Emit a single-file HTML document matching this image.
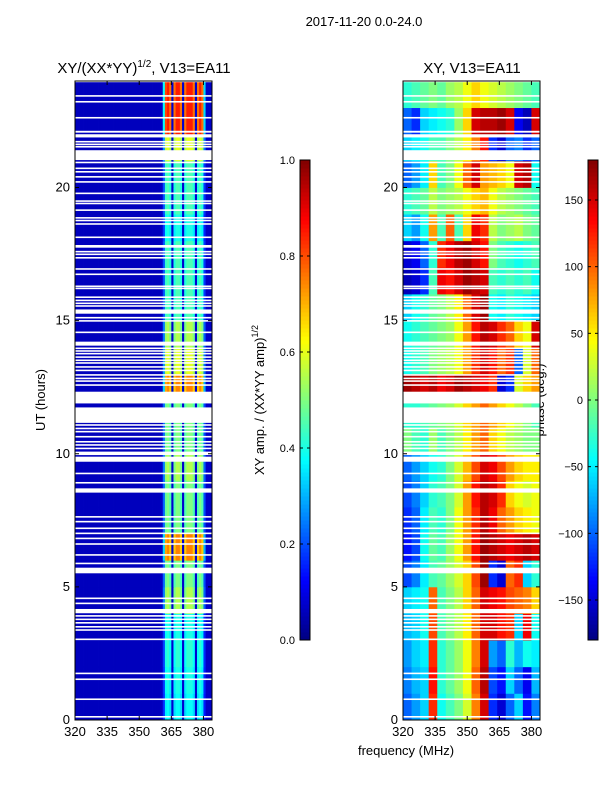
<!DOCTYPE html>
<html><head><meta charset="utf-8"><style>
body{margin:0;background:#fff;}
svg text{font-family:"Liberation Sans",sans-serif;fill:#000;}
</style></head><body>
<svg id="fig" width="600" height="800" xmlns="http://www.w3.org/2000/svg">
<rect width="600" height="800" fill="#fff"/>
<text x="364" y="26" font-size="13" text-anchor="middle">2017-11-20 0.0-24.0</text>
<text x="144" y="73" font-size="15" text-anchor="middle">XY/(XX*YY)<tspan dy="-6" font-size="10">1/2</tspan><tspan dy="6">, V13=EA11</tspan></text>
<text x="472" y="73" font-size="15" text-anchor="middle">XY, V13=EA11</text>
<text transform="translate(45,400) rotate(-90)" font-size="13" text-anchor="middle">UT (hours)</text>
<text x="406" y="755" font-size="13" text-anchor="middle">frequency (MHz)</text>
<text transform="translate(264,400) rotate(-90)" font-size="13" text-anchor="middle">XY amp. / (XX*YY amp)<tspan dy="-6" font-size="9">1/2</tspan></text>
<text transform="translate(544,400) rotate(-90)" font-size="13" text-anchor="middle">phase (deg.)</text>
<g id="g"></g>
</svg>
<script>
const flagged = [[23.97,24],[23.41,23.47],[23.19,23.25],[22.59,22.65],[22.06,22.13],[21.88,22.0],[21.69,21.75],[21.59,21.65],[21.5,21.56],[21.03,21.4],[20.91,20.97],[20.69,20.75],[20.56,20.62],[20.37,20.43],[20.18,20.24],[19.75,19.81],[19.46,19.52],[19.37,19.43],[19.12,19.18],[18.83,18.89],[18.73,18.79],[18.6,18.66],[18.1,18.16],[17.74,17.84],[17.56,17.62],[17.46,17.52],[17.33,17.39],[16.91,16.97],[16.71,16.77],[16.26,16.32],[16.18,16.24],[15.85,15.91],[15.73,15.79],[15.62,15.68],[15.52,15.58],[15.26,15.42],[15.08,15.14],[14.96,15.02],[14.53,14.59],[14.06,14.21],[13.93,13.99],[13.83,13.89],[13.73,13.79],[13.6,13.66],[13.48,13.54],[13.38,13.44],[13.23,13.29],[13.1,13.16],[12.93,12.99],[12.8,12.86],[12.7,12.76],[12.55,12.61],[11.89,12.33],[11.16,11.74],[11.05,11.11],[10.92,10.98],[10.8,10.86],[10.61,10.67],[10.42,10.48],[10.3,10.36],[10.17,10.23],[9.95,10.08],[9.7,9.89],[9.23,9.29],[8.88,8.94],[8.54,8.7],[7.6,7.66],[7.42,7.48],[7.17,7.23],[6.98,7.04],[6.79,6.85],[6.58,6.64],[6.17,6.23],[5.85,5.91],[5.51,5.72],[4.54,4.6],[4.35,4.41],[4.01,4.17],[3.88,3.94],[3.75,3.81],[3.62,3.68],[3.47,3.53],[3.35,3.41],[3.0,3.06],[1.72,1.78],[1.5,1.56],[0.75,0.81],[0.09,0.15]];
const ampCols = [0.06,0.06,0.06,0.06,0.06,0.06,0.06,0.06,0.06,0.06,0.06,0.06,0.06,0.06,0.06,0.06,0.06,0.06,0.06,0.06,0.06,0.06,0.06,0.06,0.06,0.06,0.06,0.06,0.06,0.06,0.06,0.06,0.06,0.06,0.06,0.06,0.06,0.06,0.06,0.06,0.07,0.45,0.95,1.0,0.9,0.08,0.9,1.0,1.0,0.9,0.08,0.9,1.0,1.0,1.0,0.9,0.08,0.9,1.0,0.9,0.4,0.07,0.07,0.07];
const ampHours = [0.38,0.4,0.42,0.4,0.55,0.5,0.75,0.5,0.5,0.55,0.5,0.5,0.75,0.6,0.55,0.45,0.45,0.45,0.4,0.45,0.45,0.6,0.85,0.85];
const phaseFreqs = [320,324,328,332,336,340,344,348,352,356,360,364,368,372,376,380];
const phaseRows = [
[-100,-80,-60,120,-40,-20,0,30,90,150,-120,-150,-100,-60,-130,-90],
[-90,-70,-60,130,-30,-10,10,40,100,160,-110,-130,-60,-100,-140,-70],
[-80,-60,-50,120,-30,-10,10,40,90,150,-80,-100,-30,-70,-40,-50],
[-70,-60,-40,110,-20,0,20,50,100,150,150,130,120,-60,140,-40],
[-60,-50,-40,100,-20,0,20,60,100,150,140,130,110,100,90,60],
[-110,-90,-50,-20,-10,10,30,60,110,170,-120,-150,100,120,-60,-30],
[-130,-110,-40,-10,-20,10,40,80,130,170,160,150,140,150,160,150],
[-120,-100,-50,-20,-30,0,40,80,120,160,140,100,80,60,50,40],
[-110,-90,-60,-30,-20,0,30,80,130,160,150,120,60,40,30,40],
[-100,-80,-60,-40,-30,0,30,70,110,150,140,110,80,60,50,50],
[0,-20,-30,10,-20,0,20,50,80,100,60,40,20,10,0,0],
[-30,-30,-20,-10,0,10,30,60,80,100,80,60,40,20,0,-20],
[170,160,150,160,140,150,170,160,150,140,120,-150,-120,30,60,80],
[-40,-30,-20,0,10,20,40,80,120,150,130,100,120,-100,30,100],
[-40,-30,-20,-10,0,10,40,80,130,160,150,120,100,60,40,150],
[-60,-40,-30,-10,0,20,50,100,150,170,-40,-50,-30,-40,-50,-60],
[-160,-150,-120,-20,140,130,150,170,160,150,-20,-30,-20,-30,-20,-40],
[-150,-140,-100,-30,120,140,160,170,150,130,0,-20,-30,-40,-30,-20],
[-60,-80,-40,80,-20,100,-20,60,140,120,20,0,10,20,0,-10],
[-30,-20,-10,20,0,10,20,40,60,70,40,20,10,0,-10,-20],
[-100,-80,-50,60,-20,0,40,100,150,80,70,60,40,150,160,-40],
[-60,-50,-40,-20,-20,0,20,50,90,130,-120,-150,-100,-90,-120,-100],
[-100,-120,-60,-50,-40,-30,10,60,150,160,160,170,150,-140,-160,150],
[-30,-20,-10,0,-10,10,20,40,60,40,30,20,10,0,-10,-20]];
const xTicks = [320,335,350,365,380];
const yTicks = [0,5,10,15,20];
const ampTicks = [0.0,0.2,0.4,0.6,0.8,1.0];
const phaseTicks = [-150,-100,-50,0,50,100,150];

const NS="http://www.w3.org/2000/svg";
const G=document.getElementById('g');
function mk(t,a,p){const e=document.createElementNS(NS,t);for(const k in a)e.setAttribute(k,a[k]);(p||G).appendChild(e);return e;}
function jet(v){v=Math.max(0,Math.min(1,v));
 const r=Math.max(0,Math.min(1,Math.min(4*v-1.5,-4*v+4.5)));
 const g=Math.max(0,Math.min(1,Math.min(4*v-0.5,-4*v+3.5)));
 const b=Math.max(0,Math.min(1,Math.min(4*v+0.5,-4*v+2.5)));
 return `rgb(${Math.round(r*255)},${Math.round(g*255)},${Math.round(b*255)})`;}
const Y0=720,Y1=81,F0=320,F1=384;
const yS=h=>Y0+(Y1-Y0)*h/24;
function panel(x0,x1,name){return {xS:f=>x0+(x1-x0)*(f-F0)/(F1-F0),x0,x1,name};}
const P1=panel(75,212,'amp'),P2=panel(403,540,'phase');

for(let h=0;h<24;h++){for(let c=0;c<ampCols.length;c++){
 const v=ampCols[c]<0.1?ampCols[c]:ampCols[c]*ampHours[h];
 const x=P1.xS(F0+c),w=P1.xS(F0+c+1)-x;
 const r=mk('rect',{x:x,y:yS(h+1),width:w+0.4,height:yS(h)-yS(h+1)+0.4,fill:jet(v)});
 
 
}}
for(let h=0;h<24;h++){for(let c=0;c<phaseFreqs.length;c++){
 const v=(phaseRows[h][c]+180)/360;
 const x=P2.xS(phaseFreqs[c]),w=P2.xS(phaseFreqs[c]+4)-x;
 const r=mk('rect',{x:x,y:yS(h+1),width:w+0.4,height:yS(h)-yS(h+1)+0.4,fill:jet(v)});
 
 
}}
for(const P of [P1,P2]){for(const f of flagged){
 const r=mk('rect',{x:P.x0,y:yS(f[1]),width:P.x1-P.x0,height:Math.max(1.2,yS(f[0])-yS(f[1])),fill:'#fff'});
 
 
}}
for(const P of [P1,P2]){
 const fr=mk('rect',{x:P.x0,y:Y1,width:P.x1-P.x0,height:Y0-Y1,fill:'none',stroke:'#000','stroke-width':1});
 
 
 for(const t of xTicks){const x=P.xS(t);
  mk('line',{x1:x,x2:x,y1:Y0,y2:Y0-4,stroke:'#000'});mk('line',{x1:x,x2:x,y1:Y1,y2:Y1+4,stroke:'#000'});
  const tx=mk('text',{x:x,y:Y0+16,'font-size':13,'text-anchor':'middle'});tx.textContent=t;
  
  }
 for(const t of yTicks){const y=yS(t);
  mk('line',{x1:P.x0,x2:P.x0+4,y1:y,y2:y,stroke:'#000'});mk('line',{x1:P.x1,x2:P.x1-4,y1:y,y2:y,stroke:'#000'});
  const tx=mk('text',{x:P.x0-5,y:y+4,'font-size':13,'text-anchor':'end'});tx.textContent=t;
  
  }
}
function cbar(x,name,ticks,lo,hi){
 const top=160,bot=640,n=120;
 for(let i=0;i<n;i++){const r=mk('rect',{x:x,y:bot-(i+1)*(bot-top)/n,width:10,height:(bot-top)/n+0.5,fill:jet((i+0.5)/n)});
  
  }
 const fr=mk('rect',{x:x,y:top,width:10,height:bot-top,fill:'none',stroke:'#000'});
 
 
 for(const t of ticks){const y=bot-(bot-top)*(t-lo)/(hi-lo);
  mk('line',{x1:x,x2:x+3,y1:y,y2:y,stroke:'#000'});mk('line',{x1:x+10,x2:x+7,y1:y,y2:y,stroke:'#000'});
  const tx=mk('text',{x:x-5,y:y+4,'font-size':11,'text-anchor':'end'});
  tx.textContent=(name==='amp')?t.toFixed(1):(t<0?'\u2212'+(-t):t);
  
  }
}
cbar(300,'amp',ampTicks,0,1);
cbar(588,'phase',phaseTicks,-180,180);
</script>
</body></html>
